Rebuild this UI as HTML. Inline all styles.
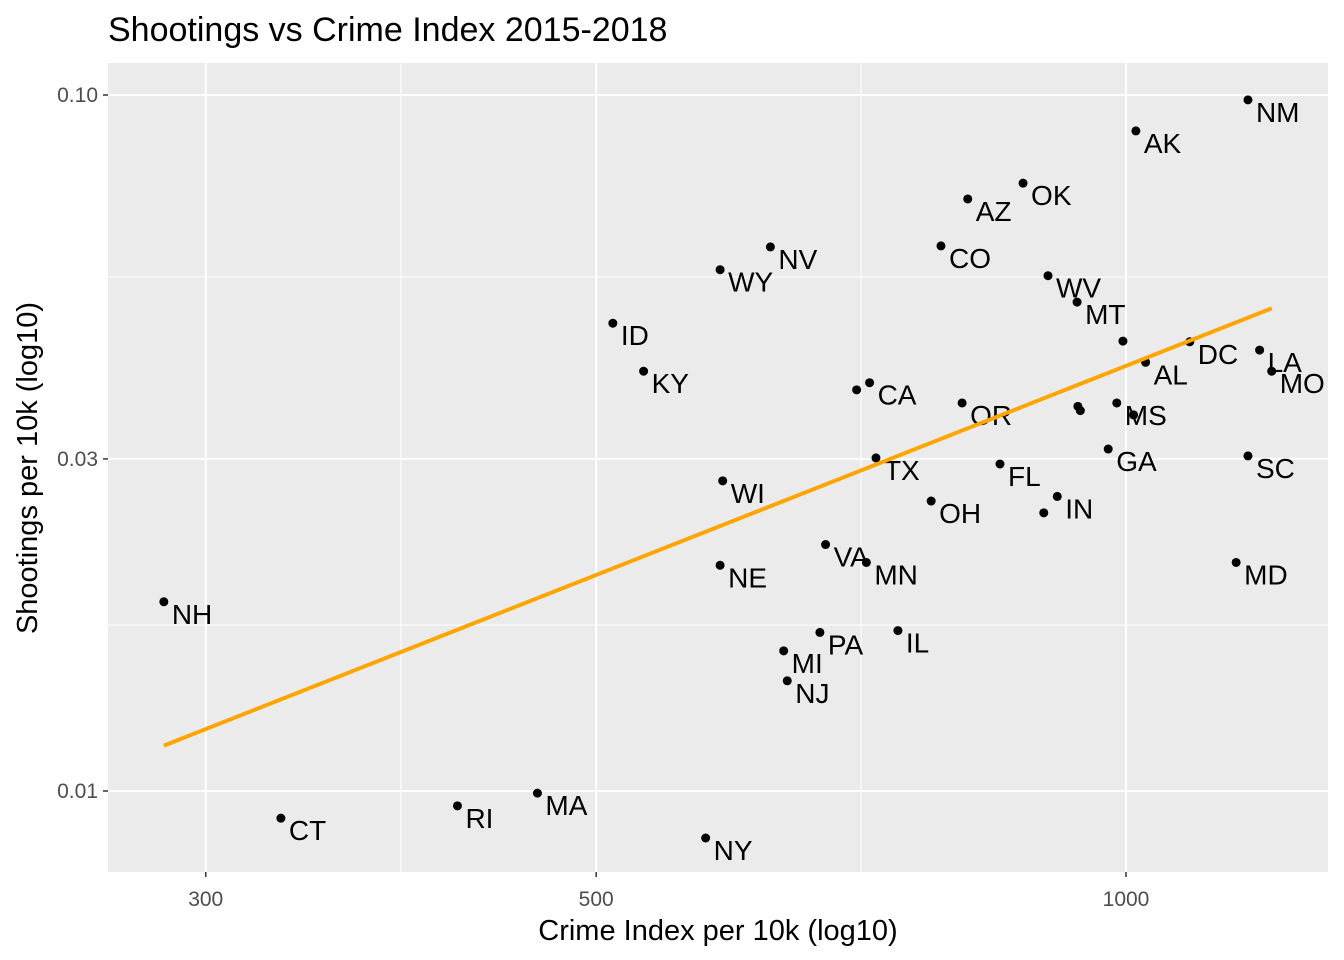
<!DOCTYPE html>
<html><head><meta charset="utf-8"><style>
body{margin:0;background:#fff;}
svg{display:block;font-family:"Liberation Sans",Arial,sans-serif;}
</style></head><body>
<svg id="chart" width="1344" height="960">
<rect x="0" y="0" width="1344" height="960" fill="#fff"/>
<text x="108" y="41" font-size="34" fill="#000">Shootings vs Crime Index 2015-2018</text>
<rect x="108" y="63" width="1220" height="809" fill="#ebebeb"/>
<g id="grid"></g>
<g id="marks"></g>
<text x="718" y="940" font-size="29" text-anchor="middle" fill="#000">Crime Index per 10k (log10)</text>
<text transform="translate(37,468) rotate(-90)" font-size="29" text-anchor="middle" fill="#000">Shootings per 10k (log10)</text>
</svg>
<script>
const states = ["NM","AK","OK","AZ","CO","NV","WY","WV","MT","ID","","DC","AL","LA","MO","KY","CA","","OR","","","MS","","GA","SC","TX","FL","WI","IN","","OH","VA","MN","NE","MD","NH","PA","IL","MI","NJ","MA","RI","CT","NY"];
const crimeIndex = [1173,1013,874,813,785,628,588,903,938,511,996,1087,1026,1191,1210,532,715,703,807,939,942,988,1010,977,1173,721,848,590,914,898,775,675,712,588,1155,284,670,742,639,642,463,417,331,577];
const shootings = [0.0984,0.0888,0.0747,0.0709,0.0607,0.0605,0.0561,0.0550,0.0504,0.0470,0.0443,0.0442,0.0413,0.0430,0.0401,0.0401,0.0386,0.0377,0.0361,0.0357,0.0352,0.0361,0.0347,0.0310,0.0303,0.0301,0.0295,0.0279,0.0265,0.0251,0.0261,0.0226,0.0213,0.0211,0.0213,0.0187,0.0169,0.0170,0.0159,0.0144,0.00993,0.00952,0.00914,0.00856];
const xMajor = [300,500,1000];
const xMinor = [387.3,707.1,1414];
const yMajor = [0.01,0.03,0.1];
const yMinor = [0.01732,0.05477];
const xLabels = ["300","500","1000"];
const yLabels = ["0.01","0.03","0.10"];

const NS="http://www.w3.org/2000/svg";
const X0=108,X1=1328,Y0=63,Y1=872;
function sx(v){return 1126+1760*Math.log10(v/1000);}
function sy(v){return 95-696*Math.log10(v/0.1);}
function mk(tag,attrs,parent){const e=document.createElementNS(NS,tag);for(const k in attrs)e.setAttribute(k,attrs[k]);parent.appendChild(e);return e;}
const grid=document.getElementById('grid'), marks=document.getElementById('marks'), svg=document.getElementById('chart');
xMinor.forEach(v=>{const x=sx(v);if(x<X0||x>X1)return;const l=mk('line',{x1:x,x2:x,y1:Y0,y2:Y1,stroke:'#fff','stroke-width':1},grid);

});
yMinor.forEach(v=>{const y=sy(v);const l=mk('line',{x1:X0,x2:X1,y1:y,y2:y,stroke:'#fff','stroke-width':1},grid);

});
xMajor.forEach((v,i)=>{const x=sx(v);const l=mk('line',{x1:x,x2:x,y1:Y0,y2:Y1,stroke:'#fff','stroke-width':2},grid);


const t=mk('line',{x1:x,x2:x,y1:Y1,y2:Y1+5,stroke:'#333','stroke-width':1.5},grid);


const tx=mk('text',{x:x,y:906,'font-size':21,fill:'#4d4d4d','text-anchor':'middle'},svg);tx.textContent=xLabels[i];

});
yMajor.forEach((v,i)=>{const y=sy(v);const l=mk('line',{x1:X0,x2:X1,y1:y,y2:y,stroke:'#fff','stroke-width':2},grid);


const t=mk('line',{x1:X0-5,x2:X0,y1:y,y2:y,stroke:'#333','stroke-width':1.5},grid);


const tx=mk('text',{x:X0-10,y:y+7,'font-size':21,fill:'#4d4d4d','text-anchor':'end'},svg);tx.textContent=yLabels[i];

});
crimeIndex.forEach((c,i)=>{const x=sx(c),y=sy(shootings[i]);
const p=mk('circle',{cx:x,cy:y,r:4.5,fill:'#000'},marks);


if(states[i]){const t=mk('text',{x:x+8,y:y+22,'font-size':28,fill:'#000'},marks);t.textContent=states[i];

}});
const lx=crimeIndex.map(v=>Math.log10(v)), ly=shootings.map(v=>Math.log10(v));
const n=lx.length, mx=lx.reduce((a,b)=>a+b)/n, my=ly.reduce((a,b)=>a+b)/n;
let sxy=0,sxx=0;for(let i=0;i<n;i++){sxy+=(lx[i]-mx)*(ly[i]-my);sxx+=(lx[i]-mx)**2;}
const b=sxy/sxx,a=my-b*mx;
const xmin=Math.min(...crimeIndex),xmax=Math.max(...crimeIndex);
const f=v=>Math.pow(10,a+b*Math.log10(v));
const tl=mk('line',{x1:sx(xmin),y1:sy(f(xmin)),x2:sx(xmax),y2:sy(f(xmax)),stroke:'#ffa500','stroke-width':4},marks);


</script>
</body></html>
